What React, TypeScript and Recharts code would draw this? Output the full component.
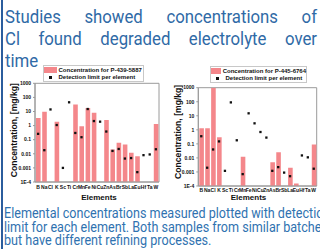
import React from 'react';
import { ComposedChart, Bar, Scatter, XAxis, YAxis, Legend, ReferenceArea } from 'recharts';

const elements = ['B', 'Na', 'Cl', 'K', 'Sc', 'Ti', 'Cr', 'Mn', 'Fe', 'Ni', 'Cu', 'Zn', 'As', 'Br', 'Sb', 'La', 'Eu', 'Hf', 'Ta', 'W'];
const yTicks = [1000, 100, 10, 1, 0.1, 0.01, 0.001, 0.0001];

const concP439: (number | null)[] = [3.5, 9.5, null, 1.9, null, null, 32, 0.9, 18, 8, null, 2.5, 0.02, 0.06, 0.045, 0.012, 0.0067, null, null, 1.3];
const limitP439: (number | null)[] = [0.26, 0.018, 14, 1.1, 0.001, 45, 0.3, 0.15, 15, 2.1, 1.9, 0.38, 0.016, 0.022, 0.0046, 0.005, 0.0005, 0.008, 0.009, 0.021];
const concP445: (number | null)[] = [1.3, 1.3, 1000, 0.3, null, null, null, 0.012, null, null, null, null, 0.005, 0.025, null, 0.002, 0.00015, null, null, 0.09];
const limitP445: (number | null)[] = [0.35, 0.002, 0.04, 0.15, 0.0012, 90, 0.18, 0.0007, 15, 2.9, 0.7, 0.28, 0.0012, 0.0022, 0.0009, 0.0005, null, 0.015, 0.011, 0.0017];

const AXIS_MIN = 0.0001;
const BAR_COLOR = '#f4878b';
const FONT = '"Liberation Sans", Arial, sans-serif';

const buildRows = (conc: (number | null)[], limit: (number | null)[]) =>
  elements.map((el, i) => ({
    el,
    conc: conc[i] == null ? [AXIS_MIN, AXIS_MIN] : [AXIS_MIN, conc[i] as number],
    limit: limit[i],
  }));

const DotShape = (p: any) => {
  if (p.cx == null || p.cy == null || !isFinite(p.cy) || !isFinite(p.cx)) return <g />;
  return <rect x={p.cx - 1.15} y={p.cy - 1.15} width={2.3} height={2.3} fill="#111" />;
};

const fmt = (v: number) => (v === 0.0001 ? '1E-4' : String(v));

type ChartProps = {
  left: number;
  top: number;
  width: number;
  height: number;
  marginTop: number;
  marginRight: number;
  yWidth: number;
  xHeight: number;
  xTickMargin: number;
  xLabelOffset: number;
  xLabelDx: number;
  yLabelOffset: number;
  yLabelDy: number;
  legendLeft: number;
  legendTop: number;
  legendWidth: number;
  barName: string;
  conc: (number | null)[];
  limit: (number | null)[];
};

const makeLegend = (w: number) => (props: any) => {
  const payload = props.payload || [];
  return (
    <div
      style={{
        width: w,
        height: 17,
        boxSizing: 'border-box',
        border: '1px solid #c8c8c8',
        background: '#fff',
        fontFamily: FONT,
        fontSize: 6,
        fontWeight: 700,
        color: '#111',
        lineHeight: '7.4px',
        paddingTop: 0.5,
      }}
    >
      {payload.map((entry: any, i: number) => (
        <div key={i} style={{ display: 'flex', alignItems: 'center', height: 7.4, whiteSpace: 'nowrap' }}>
          <div style={{ width: 13, marginRight: 1.5, height: 6, display: 'flex', alignItems: 'center', justifyContent: 'center', background: i === 0 ? BAR_COLOR : 'transparent' }}>
            {i === 1 ? <div style={{ width: 2.3, height: 2.3, background: '#111' }} /> : null}
          </div>
          <span>{entry.value}</span>
        </div>
      ))}
    </div>
  );
};

function ElementChart(p: ChartProps) {
  const rows = buildRows(p.conc, p.limit);
  return (
    <div style={{ position: 'absolute', left: p.left, top: p.top, width: p.width, height: p.height }}>
      <ComposedChart
        width={p.width}
        height={p.height}
        data={rows}
        margin={{ top: p.marginTop, right: p.marginRight, bottom: 0, left: 0 }}
        style={{ fontFamily: FONT }}
      >
        <XAxis
          dataKey="el"
          interval={0}
          tickLine={false}
          tickSize={0}
          axisLine={{ stroke: '#9a9a9a' }}
          tick={{ fontSize: 5, fontWeight: 700, fill: '#111', fontFamily: FONT }}
          tickMargin={p.xTickMargin}
          height={p.xHeight}
          label={{
            value: 'Elements',
            position: 'insideBottom',
            offset: p.xLabelOffset,
            dx: p.xLabelDx,
            style: { fontSize: 8, fontWeight: 700, fill: '#111', fontFamily: FONT },
          }}
        />
        <YAxis
          type="number"
          scale="log"
          domain={[AXIS_MIN, 1000]}
          ticks={yTicks}
          interval={0}
          allowDataOverflow
          tickFormatter={fmt}
          width={p.yWidth}
          tickSize={2}
          tickMargin={2}
          axisLine={{ stroke: '#9a9a9a' }}
          tickLine={{ stroke: '#9a9a9a' }}
          tick={{ fontSize: 5, fontWeight: 700, fill: '#111', fontFamily: FONT }}
          label={{
            value: 'Concentration, [mg/kg]',
            angle: -90,
            position: 'insideLeft',
            offset: p.yLabelOffset,
            dy: p.yLabelDy,
            style: { textAnchor: 'middle', fontSize: 8.6, fontWeight: 700, fill: '#111', fontFamily: FONT },
          }}
        />
        <ReferenceArea y1={AXIS_MIN} y2={1000} fill="none" stroke="#9a9a9a" strokeWidth={1} ifOverflow="visible" />
        <Legend
          layout="horizontal"
          verticalAlign="middle"
          align="center"
          content={makeLegend(p.legendWidth)}
          wrapperStyle={{ position: 'absolute', left: p.legendLeft, top: p.legendTop, width: p.legendWidth, height: 17 }}
        />
        <Bar dataKey="conc" name={p.barName} fill={BAR_COLOR} barSize={4.6} isAnimationActive={false} />
        <Scatter dataKey="limit" name="Detection limit per element" fill="#111" shape={<DotShape />} isAnimationActive={false} />
      </ComposedChart>
    </div>
  );
}

export default function App() {
  return (
    <div style={{ position: 'fixed', left: 0, top: 0, width: 320, height: 249, overflow: 'hidden', background: '#fff' }}>
      <div style={{ position: 'absolute', left: 1, top: 0, width: 2, height: 249, background: '#2b5d9d' }} />
      <div
        style={{
          position: 'absolute',
          left: 5,
          top: 5,
          width: 312,
          fontFamily: 'Roboto, sans-serif',
          fontSize: 16.8,
          lineHeight: '20px',
          color: '#2f6aa6',
          transform: 'scaleY(1.1)',
          transformOrigin: '0 0',
        }}
      >
        <div style={{ textAlign: 'justify', textAlignLast: 'justify', whiteSpace: 'nowrap' }}>Studies showed concentrations of</div>
        <div style={{ textAlign: 'justify', textAlignLast: 'justify', whiteSpace: 'nowrap' }}>Cl found degraded electrolyte over</div>
        <div>time</div>
      </div>

      <ElementChart
        left={0}
        top={60}
        width={162}
        height={145}
        marginTop={23.3}
        marginRight={3}
        yWidth={35}
        xHeight={23}
        xTickMargin={3.5}
        xLabelOffset={5.2}
        xLabelDx={2}
        yLabelOffset={13.5}
        yLabelDy={-2.5}
        legendLeft={43}
        legendTop={5}
        legendWidth={101}
        barName="Concentration for P-439-5887"
        conc={concP439}
        limit={limitP439}
      />
      <ElementChart
        left={160}
        top={60}
        width={160}
        height={145}
        marginTop={27.7}
        marginRight={3.3}
        yWidth={38.3}
        xHeight={19}
        xTickMargin={2.5}
        xLabelOffset={5.5}
        xLabelDx={-9}
        yLabelOffset={18}
        yLabelDy={-5}
        legendLeft={50}
        legendTop={6}
        legendWidth={97}
        barName="Concentration for P-445-6764"
        conc={concP445}
        limit={limitP445}
      />

      <div
        style={{
          position: 'absolute',
          left: 4,
          top: 206.8,
          whiteSpace: 'nowrap',
          fontFamily: 'Roboto, sans-serif',
          fontSize: 12.6,
          lineHeight: '12px',
          color: '#2f72b0',
          transform: 'scaleY(1.116)',
          transformOrigin: '0 0',
        }}
      >
        <div>Elemental concentrations measured plotted with detection</div>
        <div>limit for each element. Both samples from similar batches</div>
        <div>but have different refining processes.</div>
      </div>
    </div>
  );
}
